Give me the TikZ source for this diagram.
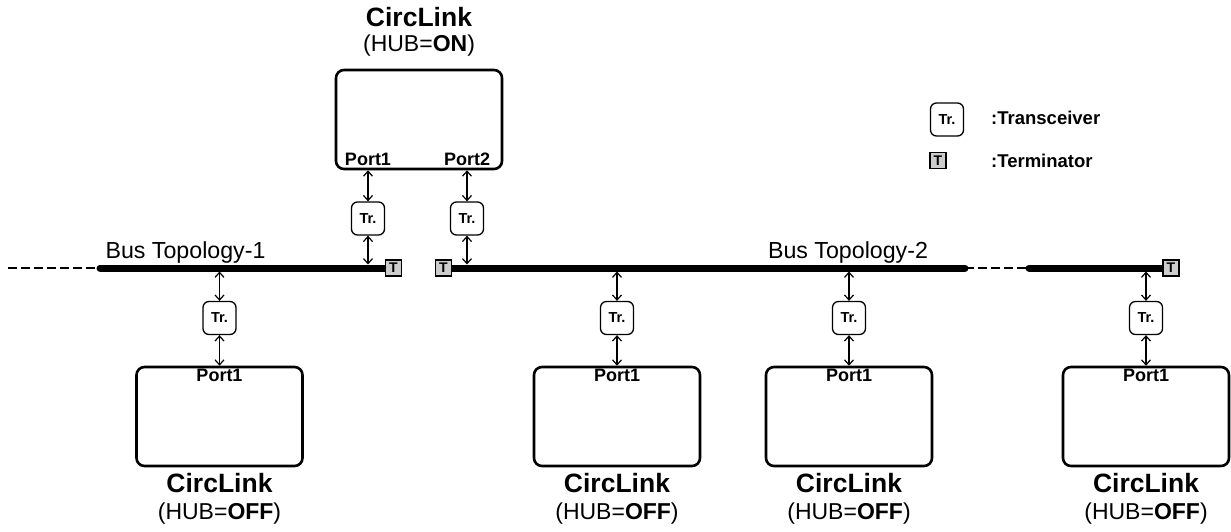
\documentclass[tikz,border=0pt]{standalone}
\usepackage{fontspec}
\setmainfont{Liberation Sans}
\usetikzlibrary{arrows.meta,backgrounds}

\tikzset{
    circlink/.style={draw, line width=2.6pt, rounded corners=8pt, minimum width=166pt, minimum height=99pt, inner sep=0pt},
    trx/.style={draw, line width=1.3pt, rounded corners=6pt, minimum width=33pt, minimum height=33pt, inner sep=0pt, font=\bfseries\fontsize{14.5}{14.5}\selectfont},
    term/.style={draw, line width=1.2pt, fill=gray!40, minimum size=16pt, inner sep=0pt, font=\bfseries\fontsize{14}{14}\selectfont},
    bus/.style={line width=7pt, line cap=round},
    busgap/.style={line width=2pt, dash pattern=on 9pt off 4pt},
    link/.style={{Straight Barb[length=5pt,width=9pt]}-{Straight Barb[length=5pt,width=9pt]}, line width=1.2pt},
    port/.style={font=\bfseries\fontsize{18}{18}\selectfont, inner sep=0pt},
    title/.style={font=\bfseries\fontsize{26.5}{26.5}\selectfont, inner sep=0pt},
    hubmode/.style={font=\fontsize{23}{23}\selectfont, inner sep=0pt},
    buslabel/.style={font=\fontsize{23.2}{23.2}\selectfont, inner sep=0pt},
    legend/.style={font=\bfseries\fontsize{18.5}{18.5}\selectfont, inner sep=0pt, anchor=west}
}

\begin{document}
\begin{tikzpicture}[x=1pt, y=-1pt]
    \useasboundingbox (0,0) rectangle (1231,531);

    % CircLink mit HUB=ON oben
    \node[circlink] (hub) at (419,119.5) {};
    \node[title] (hub-name) at (419,17) {CircLink};
    \node[hubmode] (hub-mode) at (419,46) {(HUB=\textbf{ON})};
    \node[port] (hub-p1) at (368,159) {Port1};
    \node[port] (hub-p2) at (467,159) {Port2};
    \node[trx] (tr-p1) at (368,218.5) {Tr.};
    \node[trx] (tr-p2) at (467,218.5) {Tr.};

    % Terminatoren
    \node[term] (term1) at (393.5,268) {T};
    \node[term] (term2) at (443.5,268) {T};
    \node[term] (term3) at (1171,268) {T};

    % Busleitungen
    \coordinate (bus1-start) at (100,268);
    \coordinate (bus2-end) at (965,268);
    \coordinate (bus3-start) at (1029,268);
    \coordinate (left-end) at (8,268);
    \begin{scope}[on background layer]
        \draw[bus] (bus1-start) -- (term1.west);
        \draw[bus] (term2.east) -- (bus2-end);
        \draw[bus] (bus3-start) -- (term3.west);
    \end{scope}
    \draw[busgap] (left-end) -- (bus1-start);
    \draw[busgap] (bus2-end) -- (bus3-start);
    \node[buslabel] (bus1-label) at (185.5,252) {Bus Topology-1};
    \node[buslabel] (bus2-label) at (848,252) {Bus Topology-2};

    % Verbindungen vom HUB zum Bus
    \coordinate (bus-p1) at (368,264.5);
    \coordinate (bus-p2) at (467,264.5);
    \draw[link] (hub.south -| hub-p1) -- (tr-p1.north);
    \draw[link] (tr-p1.south) -- (bus-p1);
    \draw[link] (hub.south -| hub-p2) -- (tr-p2.north);
    \draw[link] (tr-p2.south) -- (bus-p2);

    % CircLinks mit HUB=OFF unten
    \foreach \x/\n in {219.5/a, 617/b, 849/c, 1146/d} {
        \node[circlink] (box-\n) at (\x,416.5) {};
        \node[port] (port-\n) at (\x,375) {Port1};
        \node[trx] (tr-\n) at (\x,318) {Tr.};
        \node[title] (name-\n) at (\x,483) {CircLink};
        \node[hubmode] (mode-\n) at (\x,514) {(HUB=\textbf{OFF})};
        \coordinate (bus-\n) at (\x,271.5);
        \draw[link] (bus-\n) -- (tr-\n.north);
        \draw[link] (tr-\n.south) -- (box-\n.north);
    }

    % Legende
    \node[trx] (leg-tr) at (947,119.5) {Tr.};
    \node[legend] (leg-tr-text) at (991,118) {:Transceiver};
    \node[term] (leg-term) at (938,160.5) {T};
    \node[legend] (leg-term-text) at (991,160.5) {:Terminator};
\end{tikzpicture}
\end{document}
